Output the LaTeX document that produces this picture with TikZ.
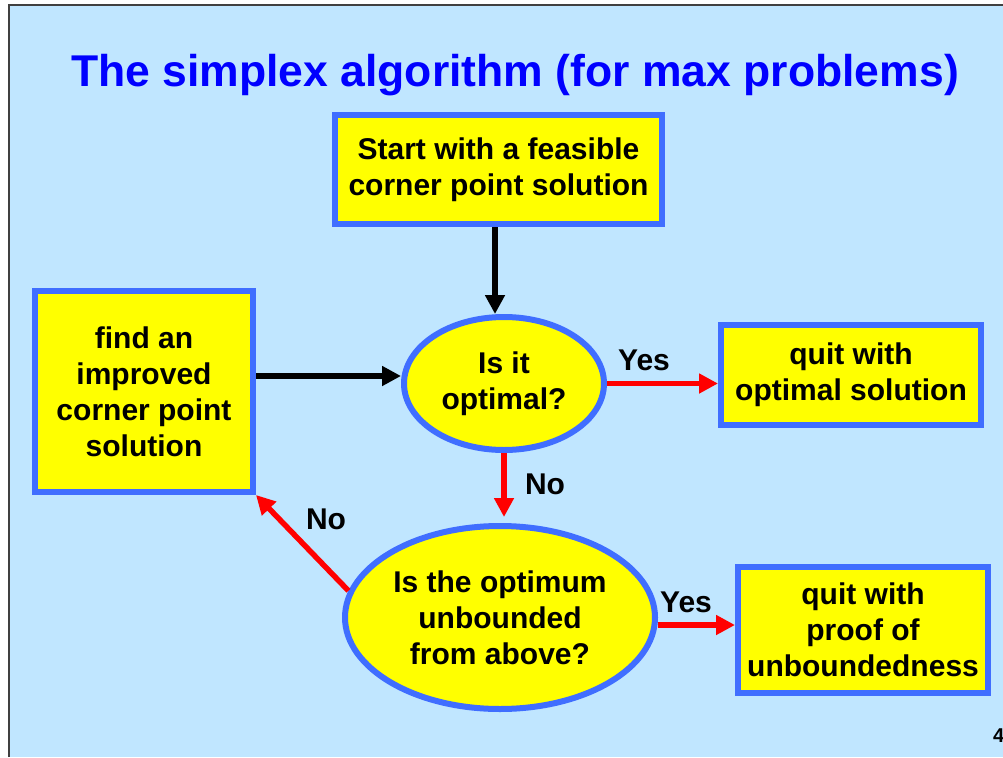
\documentclass[tikz,border=0pt]{standalone}
\usepackage{fontspec}
\setmainfont{Liberation Sans}
\usetikzlibrary{shapes.geometric,arrows.meta}

\definecolor{slidebg}{RGB}{192,230,255}
\definecolor{boxblue}{RGB}{64,110,255}
\definecolor{titleblue}{RGB}{0,0,255}
\definecolor{boxyellow}{RGB}{255,255,0}
\definecolor{flowred}{RGB}{255,0,0}

\tikzset{
  body/.style={font=\bfseries\fontsize{30}{36}\selectfont, text=black},
  stepbox/.style={body, rectangle, draw=boxblue, fill=boxyellow, line width=6pt,
                  align=center, inner sep=0pt},
  testoval/.style={body, ellipse, draw=boxblue, fill=boxyellow, line width=6pt,
                   align=center, inner sep=0pt},
  edgelabel/.style={body, inner sep=0pt},
  blackflow/.style={draw=black, line width=5.5pt,
                    -{Triangle[length=19pt,width=19pt]}},
  redflow/.style={draw=flowred, line width=5.5pt,
                  -{Triangle[length=19pt,width=19pt]}},
}

\begin{document}
\begin{tikzpicture}[x=1pt,y=-1pt]
  % slide background and frame
  \useasboundingbox (0,0) rectangle (1003,757);
  \fill[white] (0,0) rectangle (1003,757);
  \fill[slidebg] (9,5) rectangle (1003,757);
  \draw[black!75, line width=1.5pt] (9,757) -- (9,5) -- (1003,5);

  % title
  \node[anchor=base, text=titleblue, font=\bfseries\fontsize{44.5}{50}\selectfont, inner sep=0pt]
    (title) at (515,87) {The simplex algorithm (for max problems)};

  % boxes and tests
  \node[stepbox, minimum width=327pt, minimum height=109pt] (start) at (498.5,169.5)
    {Start with a feasible\\corner point solution};
  \node[stepbox, minimum width=218pt, minimum height=201pt] (improve) at (144,391.5)
    {find an\\improved\\corner point\\solution};
  \node[testoval, minimum width=200pt, minimum height=133pt] (optimal) at (504,383.5)
    {Is it\\optimal?};
  \node[stepbox, minimum width=260pt, minimum height=100pt] (quitopt) at (851,375)
    {quit with\\optimal solution};
  \node[testoval, minimum width=310pt, minimum height=183pt] (unbounded) at (500,617.5)
    {Is the optimum\\unbounded\\from above?};
  \node[stepbox, minimum width=250pt, minimum height=126pt] (quitunb) at (863,630)
    {quit with\\proof of\\unboundedness};

  % connectors
  \draw[blackflow] ([xshift=-3.5pt]start.south) -- ([xshift=-3.5pt]start.south |- optimal.north);
  \draw[blackflow] ([yshift=15.5pt]improve.east) -- ([yshift=15.5pt]improve.east -| optimal.west);
  \draw[redflow] (optimal.east) -- (optimal.east -| quitopt.west);
  \draw[redflow] (optimal.south) -- ([yshift=6pt]optimal.south |- unbounded.north);
  \draw[redflow] (unbounded.170) -- (improve.south east);
  \draw[redflow] ([yshift=-7.5pt]unbounded.east) -- ([yshift=-7.5pt]unbounded.east -| quitunb.west);

  % branch labels
  \node[edgelabel] (yes1) at (644,360) {Yes};
  \node[edgelabel] (no1) at (545,484) {No};
  \node[edgelabel] (no2) at (326,519) {No};
  \node[edgelabel] (yes2) at (686,602) {Yes};

  % page number
  \node[anchor=base west, inner sep=0pt, font=\bfseries\fontsize{20}{24}\selectfont]
    (page) at (993,742) {4};
\end{tikzpicture}
\end{document}
